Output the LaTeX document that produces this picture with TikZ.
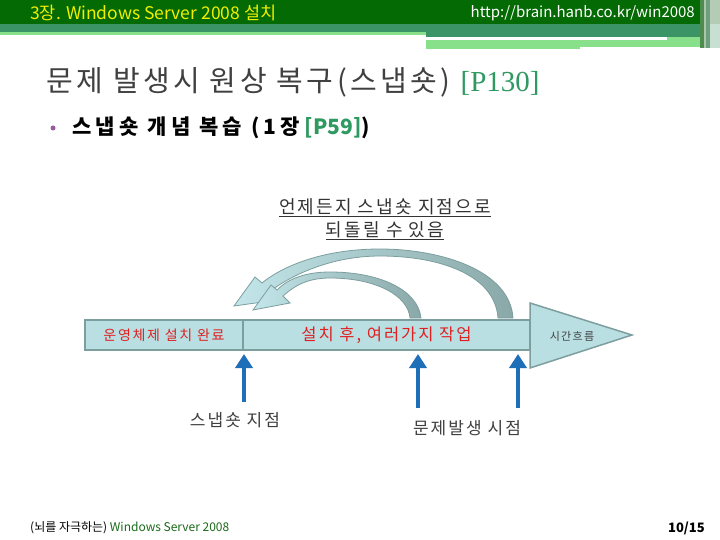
\documentclass[tikz,border=0pt]{standalone}
\usepackage{fontspec}
\setmainfont{Noto Sans CJK KR}
\newfontfamily\kspaced[LetterSpace=12]{Noto Sans CJK KR}
\newfontfamily\kwide[LetterSpace=20]{Noto Sans CJK KR}
\newfontfamily\ktitle[LetterSpace=12]{Noto Sans CJK KR}
\newfontfamily\serifLat{Liberation Serif}
\usetikzlibrary{arrows.meta}
\definecolor{hdark}{HTML}{046A04}
\definecolor{hmid}{HTML}{3A9466}
\definecolor{hlight}{HTML}{88E08A}
\definecolor{hyellow}{HTML}{F0F000}
\definecolor{titlegrey}{HTML}{404040}
\definecolor{pgreen}{HTML}{2E9960}
\definecolor{bpurple}{HTML}{9A5AA0}
\definecolor{barfill}{HTML}{B9DFE3}
\definecolor{bargrey}{HTML}{7D9E9E}
\definecolor{tailgrey}{HTML}{8AA8A8}
\definecolor{headcyan}{HTML}{C2E6EA}
\definecolor{redtxt}{HTML}{E02020}
\definecolor{bluearr}{HTML}{1F6FB8}
\definecolor{footgreen}{HTML}{1A6A1A}
\definecolor{stripeA}{HTML}{4F8A4F}
\definecolor{stripeB}{HTML}{A8C8A8}
\definecolor{stripeC}{HTML}{6E9E7E}
\definecolor{stripeD}{HTML}{B4CCB4}
\definecolor{stripeE}{HTML}{C8E0D2}
\tikzset{
  barbox/.style={draw=bargrey, fill=barfill, line width=1.5pt, inner sep=0pt, minimum height=30pt},
  curvarr/.style={draw=bargrey, line width=0.8pt, left color=headcyan, right color=tailgrey},
  uparrow/.style={draw=bluearr, line width=4pt, -{Triangle[width=17pt,length=14pt]}},
  lbl/.style={inner sep=0pt, text=titlegrey}
}
\begin{document}
\begin{tikzpicture}[x=1pt,y=-1pt]
\useasboundingbox (0,0) rectangle (720,540);
\fill[white] (0,0) rectangle (720,540);
% header
\fill[hdark] (0,0) rectangle (700,24);
\fill[hmid] (0,24) rectangle (700,32);
\fill[hlight] (0,32) rectangle (426,35);
\fill[hmid] (426,32) rectangle (700,37);
\fill[hlight] (667,37) rectangle (700,40);
\fill[hlight] (426,40) rectangle (700,47);
\fill[hlight] (426,47) rectangle (580,49);
\fill[stripeA] (700,0) rectangle (704,48);
\fill[stripeB] (704,0) rectangle (706,48);
\fill[stripeC] (706,0) rectangle (710,48);
\fill[stripeD] (710,0) rectangle (720,24);
\fill[stripeE] (710,24) rectangle (720,48);
\node[anchor=west, inner sep=0pt, text=hyellow, font=\fontsize{17.5}{20}\selectfont] (hdr) at (30,13) {3장. Windows Server 2008 설치};
\node[anchor=east, inner sep=0pt, text=white, font=\fontsize{15}{18}\selectfont] (url) at (695,13) {http://brain.hanb.co.kr/win2008};
% title
\node[anchor=west, inner sep=0pt, text=titlegrey, font=\fontsize{29}{33}\selectfont\ktitle] (title) at (46,82) {문제 발생시 원상 복구(스냅숏) {\serifLat\color{pgreen}[P130]}};
\fill[bpurple] (53,128) circle (2.5);
\node[anchor=west, inner sep=0pt, text=black, font=\fontsize{21}{25}\selectfont\bfseries] (bul) at (72,128) {{\kwide 스냅숏 개념 복습 (1장} {\color{pgreen}[P59]})};
% caption
\node[lbl, text=black!80, font=\fontsize{18}{21}\selectfont\kspaced] (cap1) at (385,208) {\underline{언제든지 스냅숏 지점으로}};
\node[lbl, text=black!80, font=\fontsize{18}{21}\selectfont\kspaced] (cap2) at (385,231) {\underline{되돌릴 수 있음}};
% curved arrows
\path[curvarr] (513,318) .. controls (510,270) and (440,249) .. (380,249)
  .. controls (320,249) and (280,268) .. (262,283)
  -- (255,277) -- (234,306) -- (277,300) -- (269,292)
  .. controls (290,276) and (330,256) .. (380,256)
  .. controls (440,256) and (495,275) .. (498,318) -- cycle;
\path[curvarr] (421,318) .. controls (418,290) and (380,272) .. (330,272)
  .. controls (300,272) and (285,282) .. (277,290)
  -- (271,285) -- (253,310) -- (290,303) -- (283,296)
  .. controls (293,287) and (306,278) .. (330,278)
  .. controls (375,278) and (408,295) .. (410,318) -- cycle;
% time bar
\node[barbox, minimum width=158pt] (b1) at (164,335) {};
\node[barbox, minimum width=287pt] (b2) at (386.5,335) {};
\path[draw=bargrey, fill=barfill, line width=1.5pt] (530,303) -- (632,335) -- (530,368) -- cycle;
\node[lbl, text=redtxt, font=\fontsize{14}{16}\selectfont\kspaced] (t1) at (b1.center) {운영체제 설치 완료};
\node[lbl, text=redtxt, font=\fontsize{16.5}{19}\selectfont\kspaced] (t2) at (b2.center) {설치 후, 여러가지 작업};
\node[lbl, font=\fontsize{11}{13}\selectfont\kspaced] (t3) at (572,336) {시간흐름};
% blue arrows
\coordinate (a1) at (244,402); \coordinate (p1) at (244,354);
\coordinate (a2) at (418,408); \coordinate (p2) at (418,354);
\coordinate (a3) at (518,408); \coordinate (p3) at (518,354);
\draw[uparrow] (a1) -- (p1);
\draw[uparrow] (a2) -- (p2);
\draw[uparrow] (a3) -- (p3);
\node[lbl, font=\fontsize{17}{20}\selectfont\kspaced] (l1) at (235,420) {스냅숏 지점};
\node[lbl, font=\fontsize{17}{20}\selectfont\kspaced] (l2) at (467,428) {문제발생 시점};
% footer
\node[anchor=west, inner sep=0pt, font=\fontsize{12}{14}\selectfont] (foot) at (30,528) {(뇌를 자극하는) {\color{footgreen}Windows Server 2008}};
\node[anchor=east, inner sep=0pt, font=\fontsize{13}{15}\selectfont\bfseries] (pg) at (705,528) {10/15};
\end{tikzpicture}
\end{document}
